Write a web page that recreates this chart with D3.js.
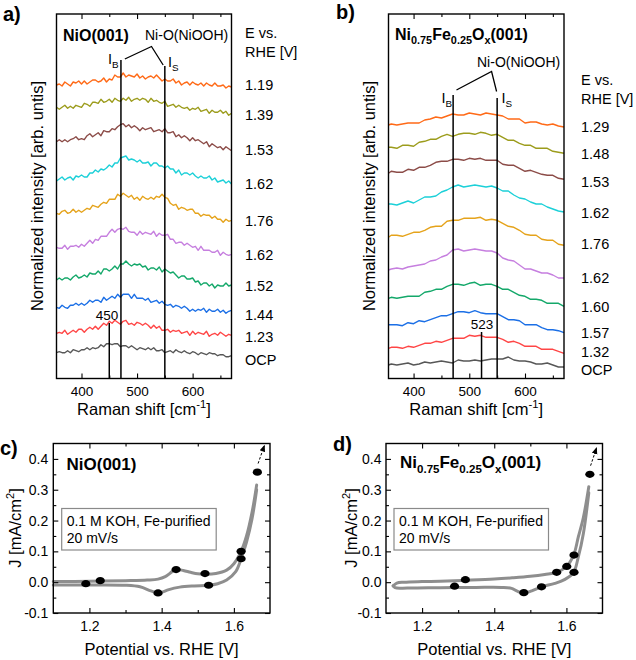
<!DOCTYPE html>
<html><head><meta charset="utf-8">
<script src="https://cdn.jsdelivr.net/npm/d3@7"></script>
<style>
body{margin:0;background:#fff}
svg text{font-family:"Liberation Sans",Arial,Helvetica,sans-serif;fill:#000}
</style></head>
<body><svg id="fig" width="636" height="660"></svg>
<script>
// ---------------- DATA ----------------
// Raman shift grids (cm^-1)
const ramanA = d3.range(355, 671, 5);               // 64 points
const ramanB = [355, ...d3.range(360, 671, 10)];     // 33 points

// Potentials (labels at right) and stacking offsets (arb. units)
const potentialsA = ["1.19","1.39","1.53","1.62","1.76","1.62","1.52","1.44","1.23","OCP"];
const potentialsB = ["1.29","1.48","1.53","1.62","1.76","1.62","1.60","1.57","1.32","OCP"];
const offsetsA = [293.5, 270.2, 236.8, 198.5, 165.2, 130.2, 98.5, 70.2, 45.2, 25.8];
const offsetsB = [253.5, 230.2, 205.2, 173.5, 141.2, 108.5, 80.2, 52.8, 30.2, 13.5];
const spectraColors = ["#ff6a17","#9c9c1c","#8c4c48","#1cd0d8","#e5a31b","#c67fdf","#14a86a","#1b6fe6","#ff4646","#575757"];

// Panel a: NiO(001) spectra (relative intensity, arb. units)
const specA_119 = [0,1,-1,3,1,-1,3,2,4,1,4,1,3,5,5,3,4,7,3,6,5,10,8,8,12,8,10,9,8,11,7,9,6,8,9,7,10,7,4,6,4,4,6,2,4,0,2,3,0,3,1,0,2,-1,2,0,-1,2,-1,-1,0,-3,-1,-2];
const specA_139 = [1,-1,1,3,0,2,0,3,2,1,5,4,2,6,6,5,9,6,7,9,6,10,8,7,10,8,11,7,9,10,8,10,9,6,10,7,8,6,5,7,2,3,4,1,3,1,0,1,-2,0,-1,1,-3,-2,-1,-5,-2,-4,-4,-2,-5,-3,-7,-5];
const specA_153 = [0,2,0,2,0,2,3,5,2,3,2,6,8,5,7,9,6,11,10,10,13,12,15,17,18,15,17,14,16,14,11,14,12,13,14,10,11,12,10,13,9,9,10,5,7,4,6,4,1,4,1,2,0,-2,0,-5,-2,-4,-6,-5,-8,-5,-7,-9];
const specA_162 = [-1,1,3,0,2,3,0,4,3,5,3,3,7,7,10,8,11,10,12,15,13,17,17,22,23,24,20,21,20,18,20,17,17,18,14,17,17,14,14,12,14,11,11,7,10,5,7,7,5,7,4,2,4,2,2,4,0,2,-2,-1,0,-3,-1,-4];
const specA_176 = [0,-1,2,3,0,1,4,1,3,1,3,5,4,8,7,6,9,11,10,14,14,14,19,17,20,18,16,18,14,16,13,17,15,14,16,14,17,16,19,16,15,10,8,9,4,6,5,3,4,4,0,0,-3,-1,-2,-2,-5,-3,-6,-6,-9,-6,-8,-7];
const specA_162b = [1,0,0,3,-1,2,2,3,1,4,2,5,8,5,9,8,12,12,12,16,19,16,19,20,19,21,17,16,16,13,17,14,16,15,14,17,12,15,13,13,14,9,9,5,6,6,3,5,3,1,2,-2,2,-2,-2,-2,-4,-4,-2,-7,-4,-6,-7,-6];
const specA_152 = [0,2,0,2,2,0,3,5,2,3,5,3,7,6,6,9,6,11,11,9,11,14,11,16,16,19,16,14,16,15,16,13,14,10,12,12,10,13,8,11,9,7,8,5,2,4,4,1,1,2,-2,-1,-5,-3,-3,-6,-4,-8,-5,-6,-6,-3,-6,-5];
const specA_144 = [1,0,3,1,0,3,3,5,3,5,3,5,8,6,8,8,6,11,8,10,12,10,14,11,14,14,14,10,14,10,10,10,8,10,6,7,8,5,7,4,3,4,1,3,2,0,2,0,-3,-1,-3,-1,-2,0,-4,-1,-3,-3,-1,-4,-2,-5,-3,-2];
const specA_123 = [0,1,0,3,-1,1,3,1,4,4,1,4,6,4,7,4,7,10,8,12,10,13,11,9,12,13,9,10,8,11,10,8,10,8,5,8,5,7,3,3,4,1,3,2,3,0,1,2,-2,2,-1,1,0,-1,2,-3,-1,0,-2,1,-1,-3,-1,-2];
const specA_OCP = [0,1,0,0,2,0,3,2,1,3,3,5,3,5,4,5,8,6,9,9,8,9,9,6,7,7,5,7,5,3,5,4,3,5,3,5,2,2,3,0,1,2,0,3,1,0,2,0,-1,1,0,-2,0,-1,-2,0,-1,-1,-3,-2,-2,-4,-4,-3];

// Panel b: Ni0.75Fe0.25Ox(001) spectra
const specB_129 = [0,1,0,1,2,2,2,5,6,8,7,9,11,10,10,12,11,10,12,11,10,9,6,6,6,2,3,3,1,0,1,-1,-2];
const specB_148 = [1,1,0,3,3,2,6,7,9,9,12,14,12,14,15,15,14,16,15,13,14,11,8,8,5,3,3,0,0,0,-3,-4,-5];
const specB_153 = [0,2,1,1,4,3,6,6,8,11,12,12,14,14,13,15,14,15,13,13,13,9,8,8,5,2,3,1,-1,-2,-2,-5,-6];
const specB_162 = [1,1,0,2,4,2,5,8,8,9,13,15,18,20,18,19,20,19,18,19,17,14,14,10,7,6,3,1,1,-2,-4,-6,-7];
const specB_176 = [0,2,2,1,3,5,5,7,10,11,11,16,17,17,19,19,19,20,17,18,17,14,11,10,7,3,2,2,-2,-3,-3,-7,-8];
const specB_162b = [0,1,2,1,3,4,5,6,9,10,13,15,20,21,19,20,21,20,19,19,17,12,10,9,5,1,1,-1,-3,-3,-5,-8,-8];
const specB_160 = [0,1,0,1,2,2,2,6,7,9,9,12,14,14,13,15,16,13,14,14,12,9,9,6,3,2,-1,-1,-2,-5,-5,-5,-8];
const specB_157 = [1,1,1,0,3,2,5,4,6,8,10,10,12,14,14,13,15,13,12,12,12,9,6,6,5,1,1,1,-2,-4,-4,-5,-7];
const specB_132 = [0,1,1,0,2,1,3,5,5,7,6,8,10,10,10,13,12,13,11,11,11,9,6,7,5,2,2,2,-1,-1,-1,-3,-5];
const specB_OCP = [0,1,0,1,2,0,1,3,2,3,4,3,2,5,4,4,5,4,5,6,6,6,8,5,4,4,3,1,1,2,0,-2,-2];

const spectraA = [specA_119,specA_139,specA_153,specA_162,specA_176,specA_162b,specA_152,specA_144,specA_123,specA_OCP];
const spectraB = [specB_129,specB_148,specB_153,specB_162,specB_176,specB_162b,specB_160,specB_157,specB_132,specB_OCP];

const ramanTicks = [400, 500, 600];
const ramanMinor = [450, 550, 650];
const bandIB = 471, bandIS = 550;

// Panel c: NiO(001) CV (potential V vs RHE, J mA/cm2)
const cvC_fwdV = [1.10,1.20,1.30,1.36,1.39,1.41,1.43,1.44,1.46,1.48,1.50,1.52,1.55,1.58,1.60,1.62,1.635,1.65,1.663];
const cvC_fwdJ = [0.002,0.003,0.005,0.007,0.010,0.018,0.035,0.041,0.038,0.032,0.027,0.026,0.028,0.039,0.060,0.100,0.150,0.225,0.315];
const cvC_revV = [1.663,1.65,1.635,1.62,1.605,1.58,1.555,1.53,1.49,1.45,1.42,1.40,1.39,1.37,1.34,1.30,1.20,1.10];
const cvC_revJ = [0.300,0.204,0.130,0.076,0.034,0.007,-0.005,-0.010,-0.012,-0.016,-0.024,-0.033,-0.035,-0.028,-0.015,-0.010,-0.009,-0.009];
const ptsC_V = [1.19,1.23,1.39,1.44,1.52,1.53,1.62,1.62,1.665];
const ptsC_J = [-0.005,0.005,-0.035,0.041,0.028,-0.010,0.100,0.076,0.357];

// Panel d: Ni0.75Fe0.25Ox(001) CV
const cvD_fwdV = [1.12,1.13,1.15,1.20,1.25,1.32,1.40,1.45,1.50,1.54,1.573,1.60,1.62,1.633,1.647,1.662];
const cvD_fwdJ = [-0.012,-0.003,0.000,0.002,0.003,0.006,0.010,0.014,0.019,0.025,0.032,0.051,0.088,0.147,0.210,0.310];
const cvD_revV = [1.662,1.647,1.633,1.62,1.596,1.568,1.531,1.504,1.482,1.462,1.448,1.42,1.35,1.25,1.16,1.125,1.12];
const cvD_revJ = [0.290,0.158,0.082,0.032,0.009,-0.004,-0.015,-0.028,-0.036,-0.028,-0.020,-0.017,-0.017,-0.018,-0.019,-0.018,-0.012];
const ptsD_V = [1.29,1.32,1.482,1.531,1.573,1.601,1.621,1.621,1.665];
const ptsD_J = [-0.013,0.008,-0.034,-0.015,0.032,0.051,0.088,0.032,0.350];

const cvXTicks = [1.2,1.4,1.6], cvXMinor = [1.3,1.5];
const cvYTicks = [-0.1,0,0.1,0.2,0.3,0.4], cvYMinor = [-0.05,0.05,0.15,0.25,0.35];

// small vertical nudges (px) of the potential labels relative to each spectrum's right end
const labelNudgeA = [-2, 1.7, -0.7, 0, 0, 0, 1, 4.7, 1.4, 4.3];
const labelNudgeB = [0, 0.7, 2.4, 0.7, -2, -0.7, 0, 0, -1.6, 3];

// ---------------- DRAW ----------------
const svg = d3.select("#fig");

function richText(g, x, y, parts, size, weight, anchor){
  const t = g.append("text").attr("x",x).attr("y",y).attr("font-size",size)
    .attr("font-weight",weight||"normal").attr("text-anchor",anchor||"start");
  let shift = 0;
  parts.forEach(p=>{
    const want = p.sub ? size*0.28 : (p.sup ? -size*0.42 : 0);
    const ts = t.append("tspan").text(p.t).attr("dy", want - shift);
    if (p.sub || p.sup) ts.attr("font-size", size*0.68);
    shift = want;
  });
  return t;
}

function inwardAxes(g, x, y, box, xMaj, xMin, yMaj, yMin, xFmt, yFmt, xPad, yPad, xFont, yFont){
  const b = g.append("g").attr("transform",`translate(0,${box.y1})`)
    .call(d3.axisBottom(x).tickValues(xMaj).tickSize(-5).tickPadding(xPad).tickFormat(xFmt));
  b.selectAll("text").attr("font-size",xFont);
  g.append("g").attr("transform",`translate(0,${box.y1})`)
    .call(d3.axisBottom(x).tickValues(xMin).tickSize(-3).tickFormat(""));
  g.append("g").attr("transform",`translate(0,${box.y0})`)
    .call(d3.axisTop(x).tickValues(xMaj).tickSize(-5).tickFormat(""));
  g.append("g").attr("transform",`translate(0,${box.y0})`)
    .call(d3.axisTop(x).tickValues(xMin).tickSize(-3).tickFormat(""));
  if (yMaj){
    const l = g.append("g").attr("transform",`translate(${box.x0},0)`)
      .call(d3.axisLeft(y).tickValues(yMaj).tickSize(-5).tickPadding(yPad).tickFormat(yFmt));
    l.selectAll("text").attr("font-size",yFont);
    g.append("g").attr("transform",`translate(${box.x0},0)`)
      .call(d3.axisLeft(y).tickValues(yMin).tickSize(-3).tickFormat(""));
    g.append("g").attr("transform",`translate(${box.x1},0)`)
      .call(d3.axisRight(y).tickValues(yMaj).tickSize(-5).tickFormat(""));
    g.append("g").attr("transform",`translate(${box.x1},0)`)
      .call(d3.axisRight(y).tickValues(yMin).tickSize(-3).tickFormat(""));
  }
  g.selectAll(".domain").remove();
  g.selectAll(".tick line").attr("stroke","#000").attr("stroke-width",1.1);
  g.selectAll(".tick text").attr("fill","#000").attr("font-family",'"Liberation Sans",Arial,sans-serif');
  g.append("rect").attr("x",box.x0).attr("y",box.y0).attr("width",box.x1-box.x0).attr("height",box.y1-box.y0)
    .attr("fill","none").attr("stroke","#000").attr("stroke-width",1.4);
}

function ramanPanel(o){
  const g = svg.append("g");
  const box = o.box;
  const x = d3.scaleLinear().domain([355,670]).range([box.x0, box.x1]);
  const y = d3.scaleLinear().domain([0,364.5]).range([box.y1, box.y0]);
  const line = d3.line().x(d=>x(d[0])).y(d=>y(d[1]));
  o.spectra.forEach((s,i)=>{
    const pts = s.map((v,k)=>[o.grid[k], o.offsets[i]+v]);
    g.append("path").attr("d",line(pts)).attr("fill","none")
      .attr("stroke",spectraColors[i]).attr("stroke-width",1.4).attr("stroke-linejoin","round");
    const last = pts[pts.length-1];
    g.append("text").attr("x",o.labelX).attr("y",y(last[1]) + o.nudge[i]).attr("dy","0.36em")
      .attr("font-size",14.5).text(o.potentials[i]);
  });
  // band lines
  g.append("line").attr("x1",x(bandIB)).attr("x2",x(bandIB)).attr("y1",o.ibTop).attr("y2",box.y1)
    .attr("stroke","#000").attr("stroke-width",1.5);
  g.append("line").attr("x1",x(bandIS)).attr("x2",x(bandIS)).attr("y1",o.isTop).attr("y2",box.y1)
    .attr("stroke","#000").attr("stroke-width",1.5);
  g.append("line").attr("x1",x(o.ref)).attr("x2",x(o.ref)).attr("y1",o.refTop).attr("y2",box.y1)
    .attr("stroke","#000").attr("stroke-width",1.5);
  g.append("text").attr("x",o.refLabelX).attr("y",o.refLabelY).attr("font-size",13.5)
    .attr("text-anchor","middle").text(o.refLabel);
  // bracket
  g.append("path").attr("d",d3.line()(o.bracket.map(p=>[x(p[0]),p[1]])))
    .attr("fill","none").attr("stroke","#000").attr("stroke-width",1.3);
  richText(g, o.nioX, o.nioY, [{t:"Ni-O(NiOOH)"}], 14, "normal", "start");
  richText(g, o.ibX, o.ibY, [{t:"I"},{t:"B",sub:true}], 14.5);
  richText(g, o.isX, o.isY, [{t:"I"},{t:"S",sub:true}], 14.5);
  // title
  richText(g, o.titleX, o.titleY, o.title, 16, "bold");
  // E vs RHE
  g.append("text").attr("x",o.labelX).attr("y",o.eY).attr("font-size",14.5).text("E vs.");
  g.append("text").attr("x",o.labelX).attr("y",o.eY+19).attr("font-size",14.5).text("RHE [V]");
  inwardAxes(g, x, y, box, ramanTicks, ramanMinor, null, null, d3.format("d"), null, 8, 0, 13.5);
  // axis titles
  richText(g, (box.x0+box.x1)/2, 415, [{t:"Raman shift [cm"},{t:"-1",sup:true},{t:"]"}], 16.5, "normal", "middle");
  g.append("text").attr("transform",`translate(${o.yLabX},196) rotate(-90)`).attr("text-anchor","middle")
    .attr("font-size",16.5).text("Normalized intensity [arb. untis]");
  g.append("text").attr("x",o.panelX).attr("y",o.panelY).attr("font-size",20).attr("font-weight","bold").text(o.panel);
}

ramanPanel({
  box:{x0:56.5,x1:231.5,y0:14,y1:378.5}, grid:ramanA, spectra:spectraA, offsets:offsetsA, nudge:labelNudgeA,
  potentials:potentialsA, labelX:245, ibTop:60, isTop:66, ref:450, refLabel:"450", refTop:323, refLabelX:107, refLabelY:320,
  bracket:[[478,59],[526,46.5],[547,65]], nioX:145, nioY:40, ibX:108, ibY:64, isX:168, isY:67,
  title:[{t:"NiO(001)"}], titleX:63, titleY:40.5, eY:38, yLabX:43, panel:"a)", panelX:3, panelY:21
});
ramanPanel({
  box:{x0:388.5,x1:564,y0:14,y1:378.5}, grid:ramanB, spectra:spectraB, offsets:offsetsB, nudge:labelNudgeB,
  potentials:potentialsB, labelX:581, ibTop:95, isTop:98, ref:522, refLabel:"523", refTop:332, refLabelX:482, refLabelY:329,
  bracket:[[477,90],[540,71.5],[549,91.5]], nioX:477, nioY:66.5, ibX:441.5, ibY:103, isX:501.5, isY:103,
  title:[{t:"Ni"},{t:"0.75",sub:true},{t:"Fe"},{t:"0.25",sub:true},{t:"O"},{t:"x",sub:true},{t:"(001)"}],
  titleX:395, titleY:40, eY:85, yLabX:374.5, panel:"b)", panelX:336, panelY:19
});

// CV panels
svg.append("defs").append("marker").attr("id","arr").attr("viewBox","0 0 10 10")
  .attr("refX",8).attr("refY",5).attr("markerWidth",7).attr("markerHeight",7).attr("orient","auto")
  .append("path").attr("d","M0,1 L10,5 L0,9 Z").attr("fill","#000");

function cvPanel(o){
  const g = svg.append("g");
  const box = o.box;
  const x = d3.scaleLinear().domain([1.1,1.7]).range([box.x0, box.x1]);
  const y = d3.scaleLinear().domain([-0.1,0.45]).range([box.y1, box.y0]);
  const line = d3.line().x(d=>x(d[0])).y(d=>y(d[1])).curve(d3.curveCatmullRom.alpha(0.5));
  const fwd = o.fV.map((v,i)=>[v,o.fJ[i]]);
  const rev = o.rV.map((v,i)=>[v,o.rJ[i]]);
  [fwd,rev].forEach(p=>g.append("path").attr("d",line(p)).attr("fill","none")
    .attr("stroke","#8e8e8e").attr("stroke-width",3).attr("stroke-linecap","round"));
  o.pV.forEach((v,i)=>g.append("ellipse").attr("cx",x(v)).attr("cy",y(o.pJ[i]))
    .attr("rx",4.6).attr("ry",3.6).attr("fill","#000"));
  g.append("line").attr("x1",x(o.arrow[0][0])).attr("y1",y(o.arrow[0][1]))
    .attr("x2",x(o.arrow[1][0])).attr("y2",y(o.arrow[1][1]))
    .attr("stroke","#000").attr("stroke-width",1).attr("stroke-dasharray","2.5,1.8").attr("marker-end","url(#arr)");
  inwardAxes(g, x, y, box, cvXTicks, cvXMinor, cvYTicks, cvYMinor, d=>d.toFixed(1), d=>d.toFixed(1), 8, o.yPad, 14, 14);
  richText(g, o.titleX, o.titleY, o.title, 17, "bold");
  g.append("rect").attr("x",o.legX).attr("y",508.5).attr("width",154.5).attr("height",41.5)
    .attr("fill","none").attr("stroke","#8a8a8a").attr("stroke-width",1.2);
  g.append("text").attr("x",o.legX+5).attr("y",525.5).attr("font-size",14).text("0.1 M KOH, Fe-purified");
  g.append("text").attr("x",o.legX+5).attr("y",542.5).attr("font-size",14).text("20 mV/s");
  g.append("text").attr("x",(box.x0+box.x1)/2).attr("y",655).attr("text-anchor","middle")
    .attr("font-size",16.5).text("Potential vs. RHE [V]");
  const yl = g.append("text").attr("transform",`translate(${o.yLabX},528) rotate(-90)`).attr("text-anchor","middle")
    .attr("font-size",16.5);
  yl.append("tspan").text("J [mA/cm");
  yl.append("tspan").text("2").attr("font-size",11).attr("dy",-7);
  yl.append("tspan").text("]").attr("dy",7);
  g.append("text").attr("x",o.panelX).attr("y",o.panelY).attr("font-size",20).attr("font-weight","bold").text(o.panel);
}

cvPanel({box:{x0:53.3,x1:270,y0:443.5,y1:613}, fV:cvC_fwdV, fJ:cvC_fwdJ, rV:cvC_revV, rJ:cvC_revJ,
  pV:ptsC_V, pJ:ptsC_J, arrow:[[1.667,0.385],[1.684,0.442]], yPad:5,
  title:[{t:"NiO(001)"}], titleX:66.5, titleY:470, legX:61.7, yLabX:20.5, panel:"c)", panelX:0, panelY:455});
cvPanel({box:{x0:386,x1:602.5,y0:443.5,y1:613}, fV:cvD_fwdV, fJ:cvD_fwdJ, rV:cvD_revV, rJ:cvD_revJ,
  pV:ptsD_V, pJ:ptsD_J, arrow:[[1.667,0.378],[1.683,0.434]], yPad:4.5,
  title:[{t:"Ni"},{t:"0.75",sub:true},{t:"Fe"},{t:"0.25",sub:true},{t:"O"},{t:"x",sub:true},{t:"(001)"}],
  titleX:400, titleY:468, legX:394, yLabX:357, panel:"d)", panelX:333, panelY:451});
</script></body></html>
